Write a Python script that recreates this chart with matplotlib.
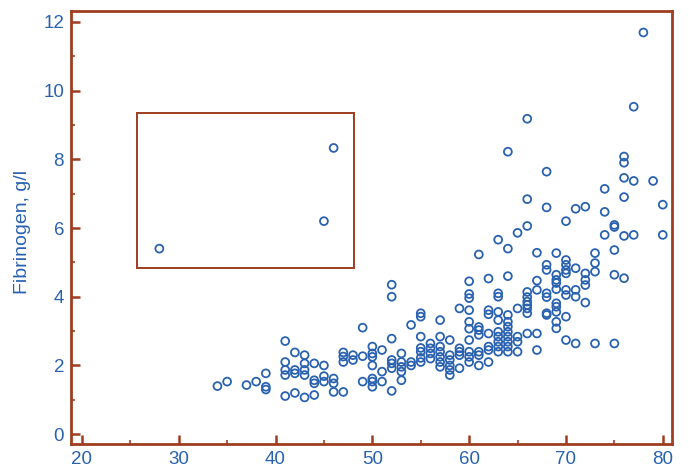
import matplotlib
matplotlib.use("Agg")
import matplotlib.pyplot as plt
from matplotlib.ticker import MultipleLocator
from matplotlib.patches import Rectangle

# age (years) -> fibrinogen values (g/l)
fib_by_age = {
    28: [5.40],
    34: [1.40],
    35: [1.53],
    37: [1.43],
    38: [1.53],
    39: [1.77, 1.38, 1.30],
    41: [2.71, 2.10, 1.87, 1.72, 1.11],
    42: [2.38, 1.87, 1.77, 1.20],
    43: [2.30, 2.06, 1.87, 1.72, 1.07],
    44: [2.06, 1.57, 1.48, 1.14],
    45: [6.20, 2.00, 1.69, 1.53],
    46: [8.33, 1.62, 1.48, 1.23],
    47: [2.38, 2.26, 2.10, 1.23],
    48: [2.30, 2.16],
    49: [3.10, 2.27, 1.53],
    50: [2.55, 2.35, 2.25, 2.00, 1.62, 1.53, 1.38],
    51: [2.45, 1.82, 1.53],
    52: [4.35, 4.00, 2.78, 2.16, 2.06, 1.92, 1.26],
    53: [2.35, 2.10, 1.96, 1.82, 1.57],
    54: [3.18, 2.10, 2.00],
    55: [3.52, 3.42, 2.84, 2.51, 2.40, 2.22, 2.10],
    56: [2.64, 2.50, 2.35, 2.20],
    57: [3.32, 2.84, 2.55, 2.40, 2.25, 2.10, 1.96],
    58: [2.74, 2.30, 2.16, 2.00, 1.87, 1.72],
    59: [3.66, 2.50, 2.40, 2.30, 1.92],
    60: [4.45, 4.08, 3.96, 3.61, 3.27, 3.07, 2.74, 2.40, 2.25, 2.10],
    61: [5.23, 3.12, 3.03, 2.89, 2.40, 2.30, 2.00],
    62: [4.53, 3.61, 3.49, 2.93, 2.55, 2.45, 2.10],
    63: [5.66, 4.10, 4.00, 3.56, 3.32, 2.98, 2.84, 2.69, 2.55, 2.40],
    64: [8.22, 5.40, 4.60, 3.47, 3.27, 3.13, 2.98, 2.84, 2.69, 2.55, 2.40],
    65: [5.86, 3.66, 2.84, 2.69, 2.40],
    66: [9.18, 6.84, 6.06, 4.14, 3.99, 3.86, 3.76, 3.66, 3.52, 2.93],
    67: [5.28, 4.47, 4.20, 2.93, 2.45],
    68: [7.64, 6.60, 4.93, 4.78, 4.10, 3.99, 3.52, 3.47],
    69: [5.27, 4.64, 4.49, 4.40, 4.22, 3.81, 3.71, 3.56, 3.27, 3.08],
    70: [6.20, 5.07, 4.93, 4.78, 4.68, 4.20, 4.05, 3.42, 2.74],
    71: [6.56, 4.83, 4.20, 4.00, 2.64],
    72: [6.62, 4.68, 4.49, 4.34, 3.83],
    73: [5.27, 4.98, 4.73, 2.64],
    74: [7.14, 6.47, 5.80],
    75: [6.09, 6.03, 5.36, 4.64, 2.64],
    76: [8.08, 7.90, 7.46, 6.90, 5.77, 4.54],
    77: [9.53, 7.37, 5.80],
    78: [11.69],
    79: [7.37],
    80: [6.68, 5.80],
}

age = []
fib = []
for a, vals in fib_by_age.items():
    for v in vals:
        age.append(a)
        fib.append(v)

# highlighted region (age range, fibrinogen range)
box_age = [25.7, 48.1]
box_fib = [4.84, 9.36]

frame = '#9e3d20'
blue = '#2a62b0'

plt.rcParams['font.family'] = ['Liberation Sans', 'DejaVu Sans']

fig = plt.figure(figsize=(6.89, 4.72), dpi=100)
ax = fig.add_axes([0.103, 0.059, 0.872, 0.918])

ax.scatter(age, fib, s=32, facecolors='none', edgecolors=blue, linewidths=1.3, zorder=3)

ax.add_patch(Rectangle((box_age[0], box_fib[0]), box_age[1]-box_age[0], box_fib[1]-box_fib[0],
                       fill=False, edgecolor=frame, linewidth=1.4, zorder=2))

ax.set_xlim(18.87, 80.93)
ax.set_ylim(-0.29, 12.32)
ax.xaxis.set_major_locator(MultipleLocator(10))
ax.xaxis.set_minor_locator(MultipleLocator(5))
ax.yaxis.set_major_locator(MultipleLocator(2))
ax.yaxis.set_minor_locator(MultipleLocator(1))

for s in ax.spines.values():
    s.set_color(frame)
    s.set_linewidth(2.0)

ax.tick_params(which='both', direction='in', color=frame, top=False, right=False)
ax.tick_params(which='major', length=6.5, width=1.8, labelsize=13.5, labelcolor=blue, pad=5)
ax.tick_params(which='minor', length=3, width=1.2)

ax.set_ylabel('Fibrinogen, g/l', color=blue, fontsize=14)
ax.yaxis.set_label_coords(-0.066, 0.49)

fig.savefig('out.png', dpi=100)
